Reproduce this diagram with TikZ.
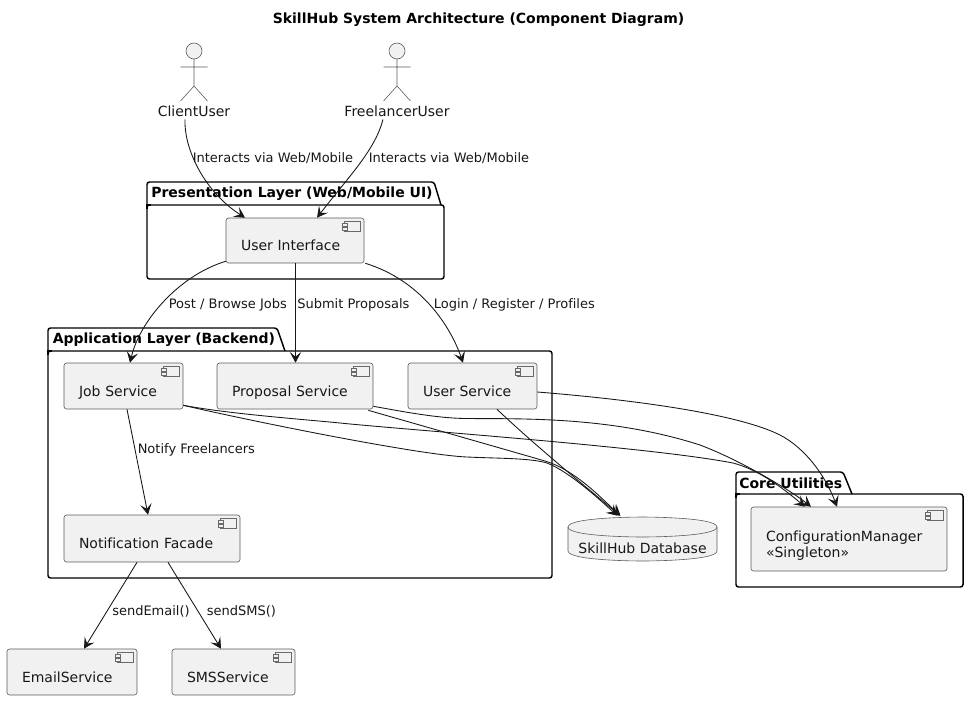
\documentclass[tikz,border=0pt]{standalone}
\usepackage{fontspec}
\setmainfont{DejaVu Sans}[Ligatures=NoCommon]
\usetikzlibrary{arrows.meta,calc}
\definecolor{ink}{HTML}{181818}
\definecolor{boxfill}{HTML}{F1F1F1}
\newcommand\basetext[2]{\raisebox{-#1pt}[0pt][0pt]{#2}}
\newcommand\compicon[1]{%
  \draw[iconline,fill=boxfill] ($(#1.north east)+(-20,4)$) rectangle ($(#1.north east)+(-4,14)$);
  \draw[iconline,fill=boxfill] ($(#1.north east)+(-22,6)$) rectangle ($(#1.north east)+(-17,8.5)$);
  \draw[iconline,fill=boxfill] ($(#1.north east)+(-22,10)$) rectangle ($(#1.north east)+(-17,12.5)$);
}
\newcommand\packagebox[7]{% left top tabtopright tabbottomright tabbottom right bottom
  \draw[pkgline] (#1,#5) -- (#1,#2) -- (#3,#2) -- (#4,#5);
  \draw[pkgline] (#1,#5) -- (#6,#5) -- (#6,#7) -- (#1,#7) -- cycle;
  \draw[pkgline,rounded corners=0pt] (#1,#5+4) -- (#1,#5) -- (#1+4,#5);
}
\tikzset{
  pkgline/.style={draw=black,line width=1.1pt,rounded corners=1.9pt},
  iconline/.style={draw=ink!65,line width=0.4pt},
  compbox/.style n args={2}{draw=ink!70,line width=0.45pt,fill=boxfill,rounded corners=1.9pt,
    minimum width={#1*0.75pt},minimum height={#2*0.75pt},inner sep=0pt,
    text width={(#1-30)*0.75pt},align=left,font=\fontsize{10.5}{12.4}\selectfont,text=ink},
  edge/.style={draw=ink,line width=0.65pt,-{Stealth[length=8pt,width=8.5pt,inset=3.5pt]}},
  edgelabel/.style={anchor=base west,inner sep=0pt,font=\fontsize{9.75}{12}\selectfont,text=ink},
  pkgtitle/.style={anchor=base west,inner sep=0pt,font=\fontsize{10.5}{12}\selectfont\bfseries,text=black},
  actorname/.style={anchor=base,inner sep=0pt,font=\fontsize{10.5}{12}\selectfont,text=ink},
  actorline/.style={draw=ink!70,line width=0.45pt},
}
\begin{document}
\begin{tikzpicture}[x=0.75pt,y=-0.75pt]
\useasboundingbox (0,0) rectangle (969,700);
\fill[white] (0,0) rectangle (969,700);

\node[anchor=base west,inner sep=0pt,font=\fontsize{10.5}{12}\selectfont\bfseries,text=black] (title) at (272.5,23) {SkillHub System Architecture (Component Diagram)};

% packages
\packagebox{147}{182}{434}{441}{205}{444}{279}
\packagebox{48}{328}{277}{285}{351}{552}{578}
\packagebox{736}{472}{843}{852}{494}{963}{587}
\node[pkgtitle] (ptitle) at (151,197) {Presentation Layer (Web/Mobile UI)};
\node[pkgtitle] (atitle) at (52.5,343) {Application Layer (Backend)};
\node[pkgtitle] (ctitle) at (739,488) {Core Utilities};

% actors
\node[actorname] (client) at (194,116) {ClientUser};
\node[actorname] (freelancer) at (397,116) {FreelancerUser};
\foreach \cx in {194,397}{
  \draw[actorline,fill=boxfill] (\cx,51) circle (8);
  \draw[actorline] (\cx,59) -- (\cx,86) (\cx-13.5,67) -- (\cx+13.5,67)
    (\cx-13.5,101) -- (\cx,86) -- (\cx+13.5,101);
}

% components
\node[compbox={138}{45}] (ui) at (295,240.5) {\basetext{7.3}{User Interface}};
\node[compbox={119}{46}] (job) at (123.5,386) {\basetext{7.5}{Job Service}};
\node[compbox={156}{46}] (proposal) at (295,386) {\basetext{7.5}{Proposal Service}};
\node[compbox={129}{46}] (user) at (472.5,386) {\basetext{7.5}{User Service}};
\node[compbox={176}{47}] (notif) at (152,538.5) {\basetext{7.8}{Notification Facade}};
\node[compbox={130}{46}] (email) at (72,672) {\basetext{7.5}{EmailService}};
\node[compbox={123}{46}] (sms) at (233.5,672) {\basetext{7.5}{SMSService}};
\node[compbox={196}{64}] (config) at (849,539) {\basetext{1.5}{\begin{tabular}[t]{@{}l@{}}ConfigurationManager\\«Singleton»\end{tabular}}};
\foreach \n in {ui,job,proposal,user,notif,email,sms,config}{\compicon{\n}}

% database
\node[minimum width={149*0.75pt},minimum height={44*0.75pt},inner sep=0pt] (db) at (642.5,539) {};
\draw[actorline,fill=boxfill] (568,527) .. controls (568,517) and (642.5,517) .. (642.5,517)
  .. controls (642.5,517) and (717,517) .. (717,527) -- (717,551)
  .. controls (717,561) and (642.5,561) .. (642.5,561)
  .. controls (642.5,561) and (568,561) .. (568,551) -- cycle;
\draw[actorline] (568,527) .. controls (568,537) and (642.5,537) .. (642.5,537)
  .. controls (642.5,537) and (717,537) .. (717,527);
\node[anchor=base,inner sep=0pt,font=\fontsize{10.5}{12}\selectfont,text=ink] (dbtext) at (642.5,553) {SkillHub Database};

% connectors
\draw[edge] ($(client.south)+(-9,3)$) .. controls (184,150) and (205,192) .. ($(ui.north)+(-50,0)$);
\draw[edge] ($(freelancer.south)+(-14,3)$) .. controls (375,150) and (350,175) .. ($(ui.north)+(22,0)$);
\draw[edge] ($(ui.south west)+(0,-2)$) .. controls (180,275) and (140,320) .. ($(job.north)+(6.5,0)$);
\draw[edge] ($(ui.south)+(0.5,0)$) -- ($(proposal.north)+(0.5,0)$);
\draw[edge] ($(ui.south east)+(1,0)$) .. controls (420,280) and (450,325) .. ($(user.north)+(-9.5,0)$);
\draw[edge] ($(job.south)+(3.5,0)$) -- ($(notif.north)+(-4,0)$);
\draw[edge] ($(notif.south)+(-15,0)$) -- ($(email.north)+(12,0)$);
\draw[edge] ($(notif.south)+(16,0)$) -- ($(sms.north)+(-12.5,0)$);
% to the configuration manager
\draw[edge] ($(job.south east)+(0,-4)$) .. controls (230,414) and (300,419) .. (340,423)
  .. controls (420,431) and (650,447) .. (733,463) .. controls (760,470) and (785,490) .. ($(config.north)+(-44,0)$);
\draw[edge] ($(proposal.south east)+(0,-3)$) .. controls (400,411) and (435,418) .. (465,418.5)
  .. controls (520,419) and (610,416) .. (700,445) .. controls (740,460) and (790,490) .. ($(config.north)+(-38,0)$);
\draw[edge] ($(user.east)+(0,6)$) .. controls (600,397) and (730,410) .. (780,435)
  .. controls (805,448) and (825,475) .. ($(config.north)+(-12,0)$);
% to the database
\draw[edge] ($(job.south east)+(0,-4)$) .. controls (260,423) and (420,455) .. (467,457)
  .. controls (500,458.5) and (530,458) .. (547,463) .. controls (570,472) and (600,500) .. ($(db.north)+(-25,-1)$);
\draw[edge] ($(proposal.south east)+(-5,1)$) .. controls (430,428) and (500,448) .. (545,461)
  .. controls (575,470) and (600,497) .. ($(db.north)+(-22,-1)$);
\draw[edge] ($(user.south)+(24.5,0)$) .. controls (540,450) and (590,490) .. ($(db.north)+(-22.5,-1)$);

% connector labels
\node[edgelabel] (l1) at (192.5,162) {Interacts via Web/Mobile};
\node[edgelabel] (l2) at (368.5,162) {Interacts via Web/Mobile};
\node[edgelabel] (l3) at (168.5,308) {Post / Browse Jobs};
\node[edgelabel] (l4) at (297,308) {Submit Proposals};
\node[edgelabel] (l5) at (433.5,308) {Login / Register / Profiles};
\node[edgelabel] (l6) at (137.5,453) {Notify Freelancers};
\node[edgelabel] (l7) at (112,615) {sendEmail()};
\node[edgelabel] (l8) at (206.5,615) {sendSMS()};
\end{tikzpicture}
\end{document}
